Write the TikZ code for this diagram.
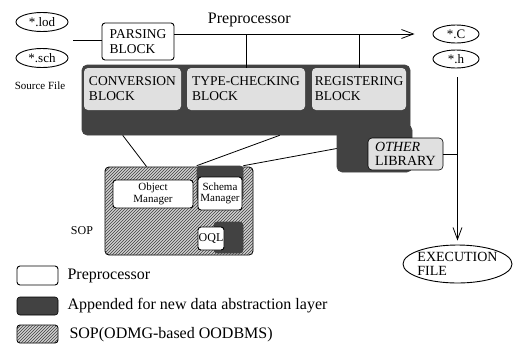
\documentclass[tikz,border=0pt]{standalone}
\usepackage{fontspec}
\setmainfont{Liberation Serif}
\usepackage{tikz}
\usetikzlibrary{shapes.geometric, arrows.meta, patterns}
\definecolor{blockdark}{RGB}{66,66,66}
\definecolor{blocklight}{RGB}{224,224,224}
\definecolor{sopgray}{RGB}{208,208,208}

\tikzset{
  preblk/.style={draw, fill=white, rounded corners=3pt, line width=0.9pt, align=left, inner sep=2pt},
  appendfill/.style={fill=blockdark, draw=blockdark, rounded corners=5pt, line width=0.6pt},
  innerblk/.style={fill=blocklight, rounded corners=4pt, align=left, inner sep=2pt,
                   font=\fontsize{13.5}{15}\selectfont},
  sopfill/.style={draw, fill=sopgray, rounded corners=4pt, line width=0.9pt,
                  postaction={pattern=north east lines, pattern color=black!75}},
  fileell/.style={draw, ellipse, line width=0.9pt, inner sep=0pt, font=\fontsize{13}{14}\selectfont},
  conn/.style={line width=0.8pt},
  flow/.style={line width=0.8pt, -{Straight Barb[length=12pt, width=9pt]}},
}

\begin{document}
\begin{tikzpicture}[x=1pt, y=-1pt]
    \useasboundingbox (0,0) rectangle (516,346);

    % source files
    \node[fileell, minimum width=52, minimum height=19] (lod) at (42,22) {*.lod};
    \node[fileell, minimum width=52, minimum height=19] (sch) at (42,58) {*.sch};
    \node[font=\fontsize{11}{12}\selectfont] (srclbl) at (40,86) {Source File};
    \coordinate (srcout) at (73,40);

    % preprocessor
    \node[preblk, minimum width=72, minimum height=37, font=\fontsize{13.5}{15}\selectfont]
      (parse) at (138,41.5) {PARSING\\BLOCK};

    % appended layer
    \node[appendfill, minimum width=328, minimum height=70] (appblk) at (246,100) {};
    \node[appendfill, minimum width=75, minimum height=47] (appext) at (374.5,148.5) {};
    \node[innerblk, minimum width=97, minimum height=42] (conv) at (132.5,89) {CONVERSION\\BLOCK};
    \node[innerblk, minimum width=118, minimum height=42] (typ) at (246,89) {TYPE-CHECKING\\BLOCK};
    \node[innerblk, minimum width=94, minimum height=42] (reg) at (359,89) {REGISTERING\\BLOCK};
    \node[innerblk, draw=black, line width=0.6pt, minimum width=75, minimum height=32,
          font=\fontsize{14}{14}\selectfont] (oth) at (405.5,154) {\textit{OTHER}\\LIBRARY};

    % output files
    \node[fileell, minimum width=46, minimum height=18] (cfile) at (456,34) {*.C};
    \node[fileell, minimum width=46, minimum height=18] (hfile) at (456,59) {*.h};
    \node[fileell, minimum width=109, minimum height=38, inner xsep=-2pt, inner ysep=-4pt,
          align=left, font=\fontsize{14}{14}\selectfont] (exec) at (457.5,264) {EXECUTION\\FILE};

    % SOP
    \node[sopfill, minimum width=148, minimum height=88] (sop) at (179,211) {};
    \node[font=\fontsize{12}{13}\selectfont] (soplbl) at (82,231) {SOP};
    \node[preblk, minimum width=80, minimum height=28, align=center,
          font=\fontsize{11}{11.5}\selectfont] (objm) at (153,194) {Object\\Manager};
    \node[appendfill, minimum width=46, minimum height=34, rounded corners=3pt] (schext) at (220,183) {};
    \node[preblk, minimum width=44, minimum height=33, inner sep=1pt, align=center,
          font=\fontsize{11}{11.5}\selectfont] (schm) at (220,193.5) {Schema\\Manager};
    \node[appendfill, minimum width=29, minimum height=31, rounded corners=3pt] (oqlext) at (228.5,237.5) {};
    \node[preblk, minimum width=26, minimum height=23, inner sep=0pt,
          font=\fontsize{12}{13}\selectfont] (oql) at (211,238.5) {OQL};

    % legend
    \node[preblk, minimum width=41, minimum height=19] (lgpre) at (37.5,275.5) {};
    \node[appendfill, draw=black, rounded corners=3pt, minimum width=41, minimum height=18] (lgapp) at (37.5,306) {};
    \node[sopfill, rounded corners=3pt, minimum width=41, minimum height=18] (lgsop) at (37.5,334) {};
    \node[anchor=west, font=\fontsize{16}{17}\selectfont] (lgpretxt) at (64,276) {Preprocessor};
    \node[anchor=west, font=\fontsize{16}{17}\selectfont] (lgapptxt) at (64,306) {Appended for new data abstraction layer};
    \node[anchor=west, font=\fontsize{16}{17}\selectfont] (lgsoptxt) at (66,335) {SOP(ODMG-based OODBMS)};

    % connectors
    \draw[conn] (srcout) -- (srcout -| parse.west);
    \draw[flow, shorten >=18pt] (parse.east |- cfile) -- (cfile.west)
      node[above=3pt, pos=0.29, font=\fontsize{16}{17}\selectfont] (pplabel) {Preprocessor};
    \draw[conn] (typ.north) -- (typ.north |- cfile);
    \draw[conn] (reg.north) -- (reg.north |- cfile);
    \draw[flow, shorten <=9pt, shorten >=4pt] (exec.north |- hfile.south) -- (exec.north);
    \draw[conn] (oth.east) -- (oth.east -| exec.north);
    \draw[conn] ([xshift=41pt]appblk.south west) -- ([xshift=42pt]sop.north west);
    \draw[conn] ([xshift=198pt]appblk.south west) -- (schext.north west);
    \draw[conn] (appext.west) -- (schext.north east);
\end{tikzpicture}
\end{document}
